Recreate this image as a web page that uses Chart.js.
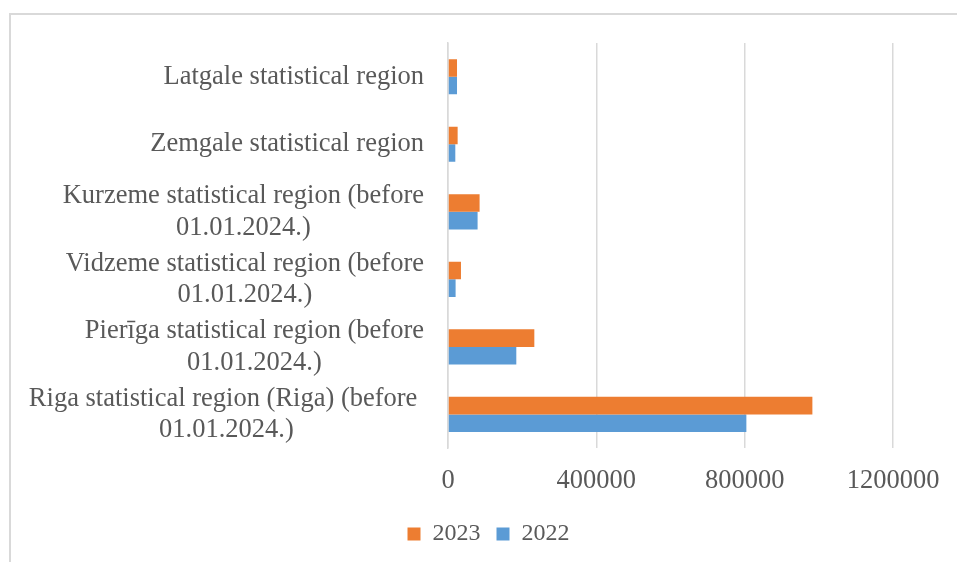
<!DOCTYPE html>
<html>
<head>
<meta charset="utf-8">
<script src="https://cdn.jsdelivr.net/npm/chart.js@4"></script>
<style>
  html, body { margin: 0; padding: 0; background: #fff; overflow: hidden; }
  #frame {
    position: absolute; left: 9px; top: 13px; width: 1000px; height: 600px;
    border-left: 2px solid #d9d9d9; border-top: 2px solid #d9d9d9;
  }
  #wrap { position: absolute; left: 0; top: 0; width: 957px; height: 562px; }
</style>
</head>
<body>
<div id="frame"></div>
<div id="wrap"><canvas id="grafico"></canvas></div>
<script>
// Dados do gráfico (de cima para baixo)
const regioes = [
  ["Latgale statistical region"],
  ["Zemgale statistical region"],
  ["Kurzeme statistical region (before", "01.01.2024.)"],
  ["Vidzeme statistical region (before", "01.01.2024.)"],
  ["Pierīga statistical region (before", "01.01.2024.)"],
  ["Riga statistical region (Riga) (before ", "01.01.2024.)"]
];
const valores2023 = [24300, 26000, 85200, 35000, 232800, 982600];
const valores2022 = [24300, 19700, 79800, 20500, 184200, 804600];
const ticksX = [0, 400000, 800000, 1200000];

const corTexto = "#595959";
const fonte = '"Liberation Serif", "Times New Roman", serif';
const tamanhoFonte = 26.5;

// Rótulos do eixo Y: bloco alinhado à direita, linhas centradas entre si
const rotulosRegioes = {
  id: "rotulosRegioes",
  afterDraw(chart) {
    const scale = chart.scales.y;
    const ctx = chart.ctx;
    const alturaLinha = 31.5;
    ctx.save();
    ctx.font = tamanhoFonte + "px " + fonte;
    ctx.fillStyle = corTexto;
    ctx.textAlign = "center";
    ctx.textBaseline = "middle";
    const direita = scale.right - 24;
    chart.data.labels.forEach((linhas, i) => {
      const w = Math.max(...linhas.map(l => ctx.measureText(l).width));
      const cx = direita - w / 2;
      const y0 = scale.getPixelForTick(i) - (linhas.length - 1) * alturaLinha / 2;
      linhas.forEach((l, j) => ctx.fillText(l, cx, y0 + j * alturaLinha));
    });
    ctx.restore();
  }
};

document.addEventListener("DOMContentLoaded", () => {
  const ctx = document.getElementById("grafico").getContext("2d");
  new Chart(ctx, {
    type: "bar",
    data: {
      labels: regioes,
      datasets: [
        { label: "2023", data: valores2023, backgroundColor: "#ED7D31" },
        { label: "2022", data: valores2022, backgroundColor: "#5B9BD5" }
      ]
    },
    options: {
      indexAxis: "y",
      responsive: true,
      maintainAspectRatio: false,
      animation: false,
      categoryPercentage: 0.52,
      barPercentage: 1,
      layout: { padding: { left: 84, right: 64, top: 43, bottom: 6 } },
      scales: {
        x: {
          min: ticksX[0],
          max: ticksX[ticksX.length - 1],
          afterBuildTicks: (s) => { s.ticks = ticksX.map(v => ({ value: v })); },
          ticks: {
            callback: (v) => String(v),
            color: corTexto,
            font: { family: fonte, size: tamanhoFonte },
            padding: 17,
            maxRotation: 0
          },
          grid: { color: "#d9d9d9", lineWidth: 1.5, drawTicks: false },
          border: { display: false },
          afterFit: (s) => { s.height -= 8; }
        },
        y: {
          ticks: { display: false },
          grid: { display: false },
          border: { display: true, color: "#d9d9d9", width: 1.5 },
          afterFit: (s) => { s.width = 364; }
        }
      },
      plugins: {
        legend: {
          position: "bottom",
          labels: {
            boxWidth: 13,
            boxHeight: 13,
            padding: 16,
            color: corTexto,
            font: { family: fonte, size: 24 }
          }
        },
        tooltip: { enabled: false }
      }
    },
    plugins: [rotulosRegioes]
  });
});
</script>
</body>
</html>
